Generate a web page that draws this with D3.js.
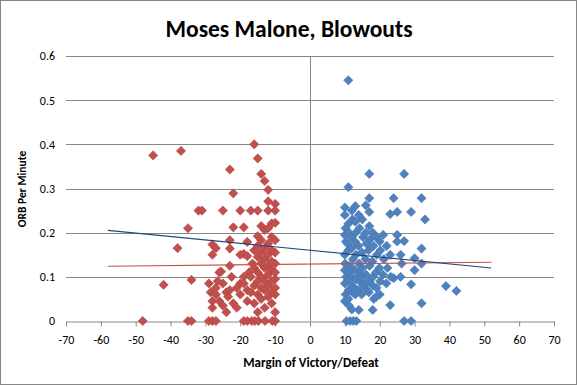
<!DOCTYPE html>
<html><head><meta charset="utf-8">
<script src="https://cdn.jsdelivr.net/npm/d3@7"></script>
<style>body{margin:0;background:#fff}svg{display:block}</style>
</head><body>
<script>
const title = "Moses Malone, Blowouts";
const xTitle = "Margin of Victory/Defeat";
const yTitle = "ORB Per Minute";
const xTicks = [-70,-60,-50,-40,-30,-20,-10,0,10,20,30,40,50,60,70];
const yTicks = [0,0.1,0.2,0.3,0.4,0.5,0.6];

// Defeats (red)
const defeatMargin = [-48,-45,-42,-38,-37,-35,-34,-35,-34,-32,-31,-29,-28,-27,
 -28,-27,-28,-29,-28.5,-28,-27,-26.5,-26,-25.5,-25,-27,-26,-25,-28,
 -25,-23,-22,-23,-23,-23,-22,-24,-23,-22,-21,-22.5,-24,-23.5,-21,-20,-20,-20,-20,
 -19,-19,-18,-18,-19,-19,-18,-18,-17.5,-17,-17,-17,-16.5,-16,-16,-16,-16,-16,
 -15,-15,-15,-15,-15,-15,-15,-15,-15,-14,-14,-14,-14,-14,-14,-14,-14,
 -13,-13,-13,-13,-13,-13,-13,-13,-12,-12,-12,-12,-12,-12,-12,-12,-12,-12,
 -11,-11,-11,-11,-11,-11,-11,-11,-10,-10,-10,-10,-10,-10,-10,-10,-10,-10,-10,
 -19,-18,-16.7,-15.8,-14.8,-12.9,-10.8,-10];
const defeatOrb = [0,0.375,0.082,0.165,0.385,0.21,0.093,0,0,0.25,0.25,0,0,0,
 0.173,0.165,0.15,0.085,0.065,0.045,0.075,0.09,0.11,0.112,0.085,0.06,0.045,0.035,0.03,
 0.25,0.343,0.289,0.183,0.164,0.125,0.212,0.065,0.07,0.04,0.03,0.1,0.02,0.055,0.075,0.085,0.25,0.15,0.06,
 0.212,0.152,0.147,0.179,0.1,0.085,0.07,0.045,0.11,0.25,0.1,0.065,0.13,0.4,0.16,0.12,0.08,0.04,
 0.368,0.25,0.192,0.17,0.145,0.11,0.09,0.06,0.02,0.333,0.215,0.183,0.155,0.13,0.1,0.075,0.05,
 0.317,0.206,0.165,0.14,0.12,0.09,0.07,0.03,0.297,0.271,0.25,0.21,0.175,0.15,0.125,0.105,0.08,0.055,
 0.221,0.19,0.16,0.135,0.115,0.09,0.065,0.04,0.265,0.25,0.222,0.183,0.155,0.13,0.11,0.095,0.075,0.06,0.02,
 0,0,0,0,0,0,0,0];

// Victories (blue)
const victoryMargin = [11,17,27,11,10,13,17,24,32,16,17,23,25,29,33,25,25,27,32,30,30,32,26,29,24,39,42,32,23,18,14,12,
 10.5,11.5,12.4,13.3,27,29,
 10,10.2,10,10.3,10,10.1,10,10.4,10,10.2,10,
 11,11.2,10.8,11,11.3,11,10.9,11.1,11,11.2,
 12,12.2,11.9,12,12.3,12.1,12,11.8,12.2,
 13,13.1,12.9,13.2,13,13.3,12.8,13,
 14,14.2,13.9,14.1,14,14.3,13.8,
 15,15.2,14.9,15.1,15,15.3,14.8,
 16,16.2,15.9,16.1,16,16.3,
 17,17.2,16.8,17.1,17,16.9,
 18,18.2,17.9,18.1,18,18.3,
 19,19.2,18.9,19.1,19,
 20,20.2,19.9,20.1,20,
 21,21.2,20.9,22,22.2,21.9,23,23.2,26,26.3];
const victoryOrb = [0.545,0.333,0.333,0.303,0.257,0.26,0.278,0.278,0.278,0.262,0.247,0.242,0.247,0.247,0.23,0.195,0.18,0.181,0.164,0.142,0.115,0.13,0.1,0.083,0.097,0.079,0.068,0.04,0.036,0.025,0.025,0.026,
 0,0,0,0,0,0,
 0.24,0.21,0.195,0.18,0.15,0.13,0.115,0.1,0.085,0.06,0.045,
 0.22,0.2,0.175,0.16,0.125,0.11,0.095,0.07,0.05,0.035,
 0.25,0.23,0.19,0.165,0.14,0.12,0.1,0.085,0.065,
 0.225,0.2,0.18,0.15,0.115,0.095,0.075,0.06,
 0.24,0.21,0.17,0.13,0.11,0.09,0.07,
 0.23,0.19,0.155,0.12,0.1,0.08,0.06,
 0.2,0.175,0.14,0.105,0.085,0.07,
 0.215,0.185,0.16,0.125,0.09,0.065,
 0.2,0.17,0.135,0.1,0.08,0.05,
 0.19,0.15,0.11,0.075,0.055,
 0.18,0.16,0.12,0.09,0.06,
 0.195,0.14,0.105,0.17,0.12,0.085,0.15,0.1,0.15,0.13];

// Linear trendlines (endpoints)
const trendX = [-58, 52];
const victoryTrend = [0.205, 0.12];
const defeatTrend = [0.124, 0.133];

const W = 577, H = 385;
const svg = d3.select("body").append("svg").attr("width", W).attr("height", H);
svg.append("rect").attr("x",0.5).attr("y",0.5).attr("width",W-1).attr("height",H-1)
  .attr("fill","#fff").attr("stroke","#868686");

const x = d3.scaleLinear().domain([-70,70]).range([66,554]);
const y = d3.scaleLinear().domain([0,0.6]).range([321,56]);
const font = "Carlito, Calibri, Lato, 'Open Sans', sans-serif";

// gridlines
svg.append("g").selectAll("line").data(yTicks.filter(d=>d>0)).join("line")
  .attr("x1",x(-70)).attr("x2",x(70)).attr("y1",d=>Math.round(y(d))+0.5).attr("y2",d=>Math.round(y(d))+0.5)
  .attr("stroke","#868686").attr("stroke-width",1);

// vertical axis at 0
svg.append("line").attr("x1",Math.round(x(0))+0.5).attr("x2",Math.round(x(0))+0.5)
  .attr("y1",y(0)).attr("y2",y(0.6)).attr("stroke","#868686");

// x axis
const xAxis = svg.append("g").attr("transform",`translate(0,${Math.round(y(0))+0.5})`)
  .call(d3.axisBottom(x).tickValues(xTicks).tickSize(5).tickSizeOuter(0).tickPadding(9).tickFormat(d=>String(d)));
xAxis.select(".domain").attr("stroke","#868686");
xAxis.selectAll(".tick line").attr("stroke","#868686");
xAxis.selectAll("text").attr("font-family",font).attr("font-size",12).attr("fill","#000");

// y labels
const yAxis = svg.append("g").attr("transform",`translate(${x(-70)},0)`)
  .call(d3.axisLeft(y).tickValues(yTicks).tickSize(0).tickPadding(11).tickFormat(d=>d===0?"0":d3.format(".1f")(d)));
yAxis.select(".domain").remove();
yAxis.selectAll("text").attr("font-family",font).attr("font-size",12).attr("fill","#000");

const diamond = "M0,-4.6L4.6,0L0,4.6L-4.6,0Z";
function drawSeries(xs, ys, color, stroke){
  svg.append("g").selectAll("path").data(xs.map((v,i)=>[v,ys[i]])).join("path")
    .attr("d",diamond).attr("transform",d=>`translate(${x(d[0])},${y(d[1])})`)
    .attr("fill",color).attr("stroke",stroke).attr("stroke-width",0.6);
}
drawSeries(defeatMargin, defeatOrb, "#C0504D", "#b9403d");
drawSeries(victoryMargin, victoryOrb, "#4F81BD", "#4577b3");

// trendlines
svg.append("line").attr("x1",x(trendX[0])).attr("x2",x(trendX[1]))
  .attr("y1",y(defeatTrend[0])).attr("y2",y(defeatTrend[1])).attr("stroke","#C0504D").attr("stroke-width",1.2);
svg.append("line").attr("x1",x(trendX[0])).attr("x2",x(trendX[1]))
  .attr("y1",y(victoryTrend[0])).attr("y2",y(victoryTrend[1])).attr("stroke","#1F497D").attr("stroke-width",1.2);

// titles
svg.append("text").attr("x",289).attr("y",37).attr("text-anchor","middle")
  .attr("font-family",font).attr("font-weight","bold").attr("font-size",23.5).text(title);
svg.append("text").attr("x",311).attr("y",367).attr("text-anchor","middle")
  .attr("font-family",font).attr("font-weight","bold").attr("font-size",13).text(xTitle);
svg.append("text").attr("transform","translate(26,189) rotate(-90)").attr("text-anchor","middle")
  .attr("font-family",font).attr("font-weight","bold").attr("font-size",11.5).text(yTitle);
</script>
</body></html>
